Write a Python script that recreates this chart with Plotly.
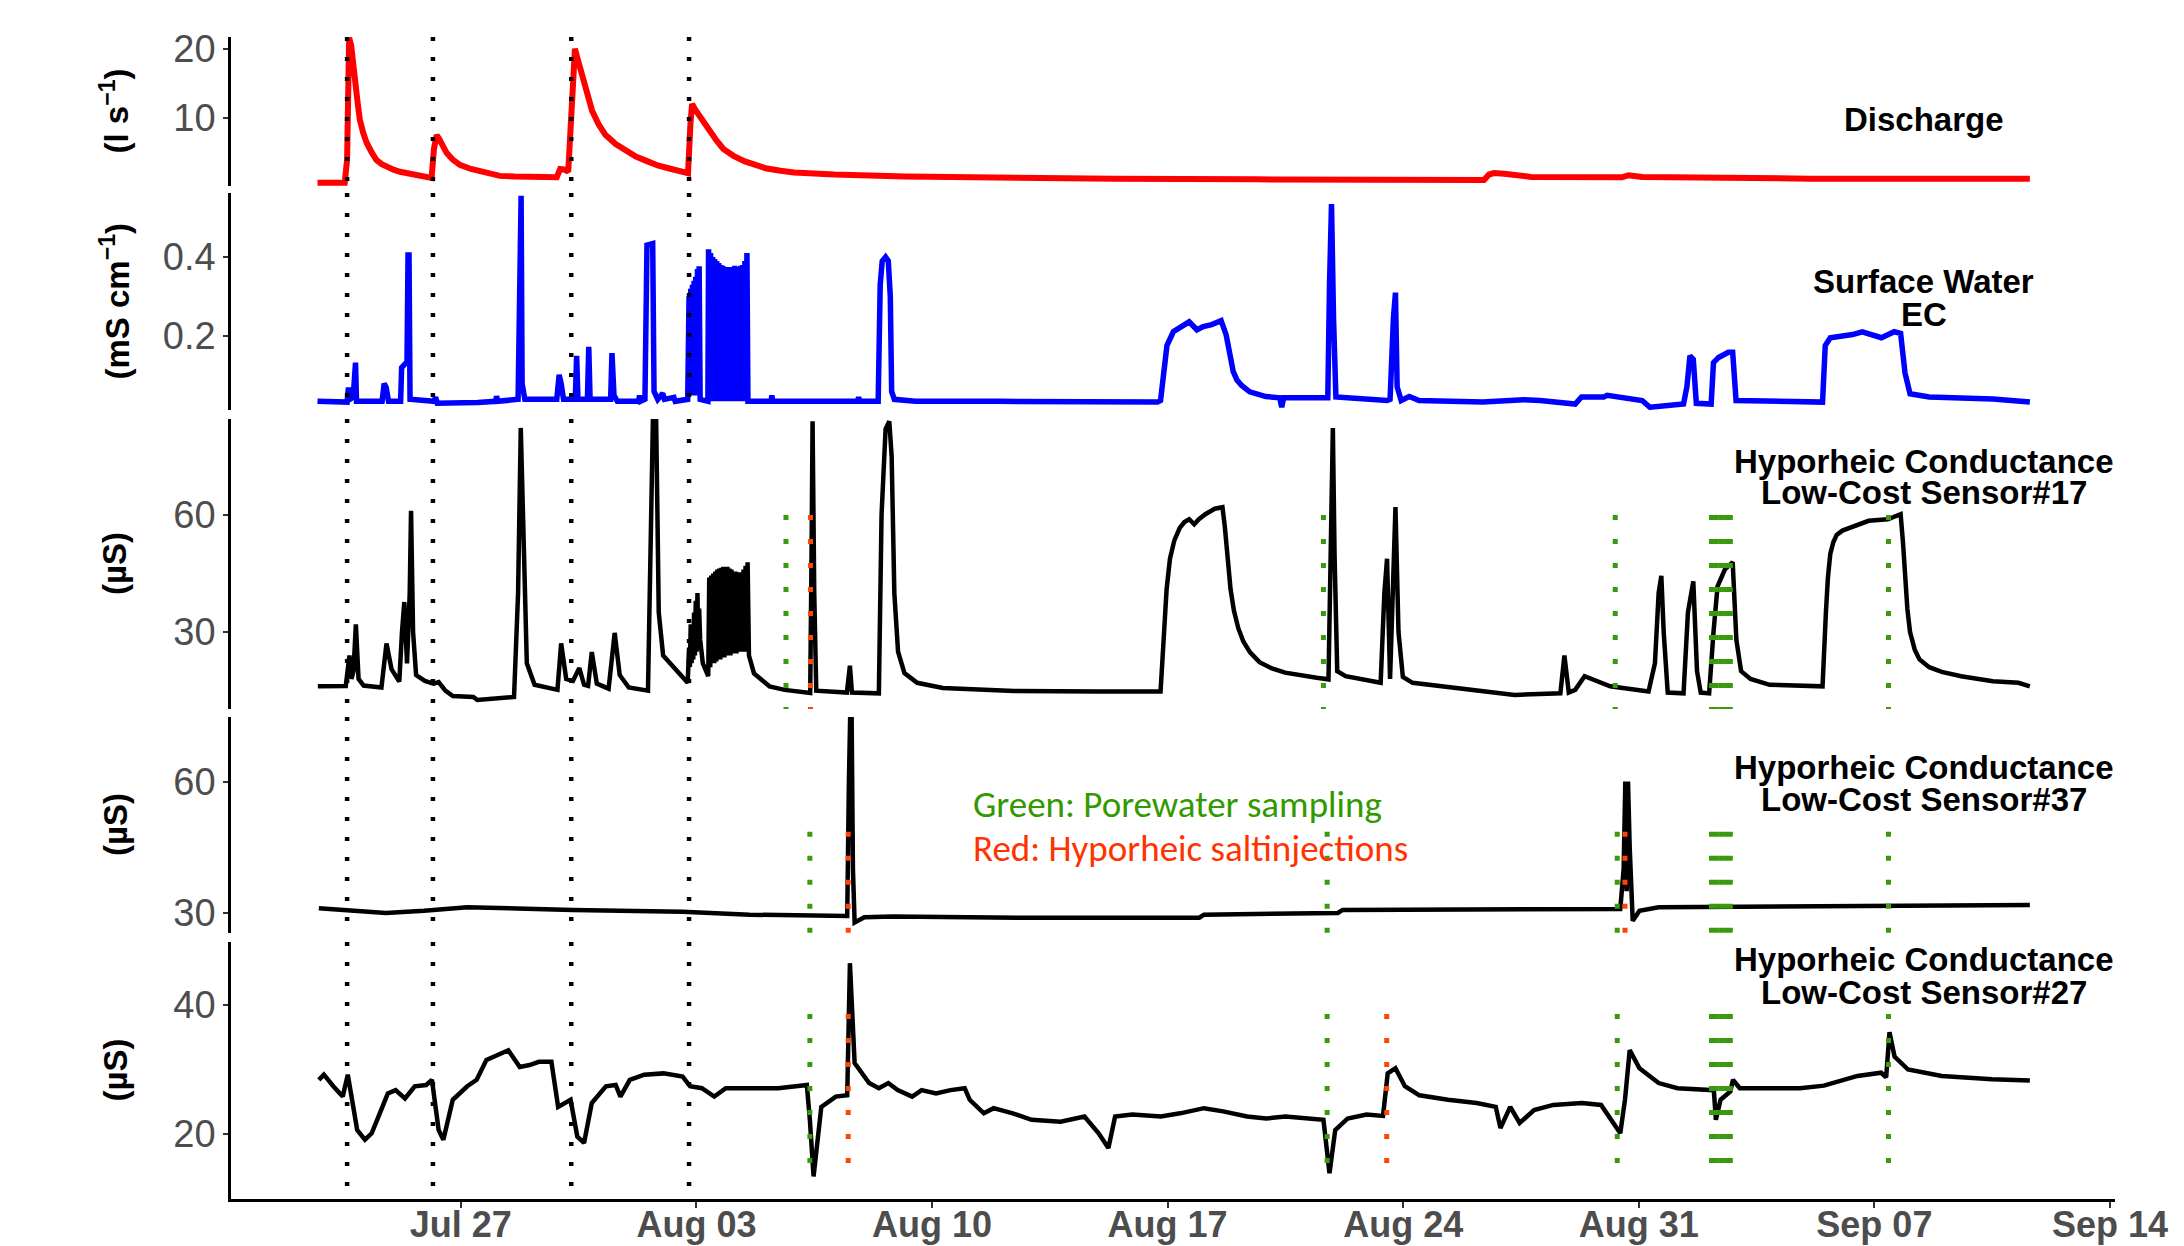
import pandas as pd
import plotly.graph_objects as go

BASE = pd.Timestamp("2021-07-20")

# ---------------- data (x = days since 20 Jul) ----------------
q_day = [2.74, 3.55, 3.62, 3.68, 3.74, 3.80, 3.85, 3.90, 3.95, 4.00, 4.10, 4.20, 4.35, 4.49, 4.65, 4.79,
         5.00, 5.19, 5.45, 5.68, 5.90, 6.08, 6.13, 6.20, 6.28, 6.35, 6.45, 6.58, 6.75, 6.97, 7.30, 7.65,
         8.16, 8.60, 9.00, 9.70, 9.85, 9.95, 10.10, 10.19, 10.30, 10.39, 10.47, 10.60, 10.75, 10.90, 11.10,
         11.30, 11.60, 11.90, 12.20, 12.55, 12.85, 13.17, 13.45, 13.70, 13.75, 13.82, 13.87, 13.95, 14.12,
         14.25, 14.40, 14.60, 14.80, 15.10, 15.44, 15.75, 16.06, 16.50, 16.90, 17.50, 18.10, 20.20, 22.30,
         26.40, 30.60, 34.70, 37.40, 37.55, 37.70, 38.00, 38.80, 41.50, 41.70, 42.10, 47.10, 53.62]
q_val = [0.6, 0.6, 4.0, 21.6, 20.5, 18.4, 16.0, 13.6, 11.5, 9.7, 7.8, 6.4, 5.0, 3.9, 3.3, 2.9,
         2.5, 2.2, 2.0, 1.8, 1.55, 1.3, 1.3, 5.5, 7.5, 7.0, 6.0, 4.9, 4.0, 3.2, 2.6, 2.2,
         1.6, 1.5, 1.45, 1.3, 1.4, 2.6, 2.5, 2.2, 12.0, 20.0, 18.5, 16.0, 13.3, 11.0, 9.0,
         7.5, 6.2, 5.3, 4.4, 3.7, 3.1, 2.7, 2.35, 2.1, 2.0, 9.0, 12.0, 11.3, 10.0,
         9.0, 8.0, 6.7, 5.5, 4.5, 3.7, 3.1, 2.7, 2.35, 2.1, 1.95, 1.8, 1.5, 1.35,
         1.2, 1.1, 1.0, 1.0, 1.8, 2.0, 1.9, 1.45, 1.4, 1.7, 1.45, 1.2, 1.2]

ec_day = [2.74, 3.62, 3.66, 3.70, 3.80, 3.84, 3.87, 3.90, 4.66, 4.72, 4.78, 4.85, 5.21, 5.24, 5.40, 5.43,
          5.46, 5.49, 6.20, 6.25, 6.30, 7.50, 8.03, 8.06, 8.10, 8.70, 8.74, 8.76, 8.79, 8.82, 8.90, 9.85,
          9.92, 9.98, 10.05, 10.40, 10.44, 10.48, 10.76, 10.80, 10.84, 11.45, 11.49, 11.55, 11.65, 12.28,
          12.31, 12.34, 12.47, 12.53, 12.70, 12.74, 12.85, 13.00, 13.05, 13.33, 13.37, 13.74,
          13.78, 13.805, 13.83, 13.855, 13.88, 13.905, 13.93, 13.955, 13.98, 14.005, 14.03, 14.055, 14.08, 14.11,
          14.34,
          14.36, 14.39, 14.42, 14.45, 14.48, 14.51, 14.54, 14.57, 14.60, 14.63, 14.66, 14.69, 14.72, 14.75,
          14.78, 14.81, 14.84, 14.87, 14.90, 14.93, 14.96, 14.99, 15.02, 15.05, 15.08, 15.11, 15.14, 15.17,
          15.20, 15.23, 15.26, 15.29, 15.32, 15.35, 15.38, 15.41, 15.44, 15.47, 15.50, 15.53,
          15.60, 16.22, 16.24, 16.27, 18.78, 18.82, 18.86, 19.40, 19.46, 19.52, 19.62, 19.70, 19.76, 19.80,
          19.88, 20.50, 23.00, 25.99, 27.70, 27.79, 27.88, 27.98, 28.17, 28.36, 28.64, 28.87, 29.06, 29.31,
          29.59, 29.74, 29.80, 29.88, 29.95, 30.06, 30.20, 30.44, 30.92, 31.33, 31.39, 31.45, 32.76, 32.81,
          32.87, 32.93, 33.00, 34.52, 34.61, 34.71, 34.77, 34.82, 34.94, 35.18, 35.47, 37.36, 38.59, 39.07,
          40.11, 40.30, 40.96, 41.06, 42.10, 42.33, 43.33, 43.43, 43.52, 43.62, 43.71, 44.15, 44.22, 44.37,
          44.66, 44.79, 44.89, 47.46, 47.54, 47.69, 47.98, 48.35, 48.64, 48.92, 49.21, 49.59, 49.78, 49.91,
          50.06, 50.63, 52.52, 53.62]
ec_val = [0.035, 0.033, 0.07, 0.04, 0.045, 0.133, 0.133, 0.035, 0.035, 0.08, 0.07, 0.035, 0.035, 0.12, 0.135, 0.405,
          0.405, 0.04, 0.035, 0.045, 0.03, 0.032, 0.035, 0.048, 0.035, 0.04, 0.30, 0.555, 0.555, 0.08, 0.04, 0.04,
          0.102, 0.08, 0.04, 0.04, 0.15, 0.04, 0.04, 0.173, 0.04, 0.04, 0.157, 0.05, 0.035, 0.035,
          0.05, 0.035, 0.04, 0.43, 0.434, 0.06, 0.04, 0.055, 0.04, 0.045, 0.035, 0.04,
          0.30, 0.05, 0.32, 0.05, 0.33, 0.05, 0.34, 0.05, 0.35, 0.05, 0.37, 0.05, 0.377, 0.04,
          0.035,
          0.42, 0.035, 0.41, 0.035, 0.40, 0.035, 0.395, 0.035, 0.39, 0.035, 0.385, 0.035, 0.38, 0.035,
          0.378, 0.035, 0.375, 0.035, 0.375, 0.035, 0.375, 0.035, 0.375, 0.035, 0.375, 0.035, 0.378, 0.035,
          0.375, 0.035, 0.375, 0.035, 0.378, 0.035, 0.38, 0.035, 0.39, 0.035, 0.41, 0.035,
          0.035, 0.035, 0.05, 0.035, 0.035, 0.045, 0.035, 0.035, 0.33, 0.39, 0.40, 0.39, 0.30, 0.06,
          0.04, 0.035, 0.035, 0.033, 0.033, 0.037, 0.12, 0.176, 0.211, 0.222, 0.236, 0.216, 0.224, 0.229,
          0.239, 0.203, 0.17, 0.133, 0.11, 0.089, 0.075, 0.059, 0.047, 0.044, 0.02, 0.044, 0.044, 0.33,
          0.534, 0.246, 0.046, 0.037, 0.04, 0.246, 0.31, 0.072, 0.037, 0.047, 0.037, 0.033, 0.039, 0.037,
          0.028, 0.046, 0.046, 0.05, 0.037, 0.02, 0.028, 0.072, 0.15, 0.141, 0.03, 0.028, 0.133, 0.146,
          0.159, 0.159, 0.037, 0.033, 0.176, 0.196, 0.198, 0.204, 0.211, 0.203, 0.196, 0.211, 0.207, 0.107,
          0.054, 0.046, 0.041, 0.033]

s17_day = [2.75, 3.58, 3.69, 3.75, 3.81, 3.88, 3.96, 4.11, 4.64, 4.79, 4.94, 5.17, 5.25, 5.32, 5.40, 5.48,
           5.52, 5.58, 5.67, 5.93, 6.19, 6.34, 6.54, 6.76, 7.37, 7.49, 8.58, 8.70, 8.78, 8.86, 8.96, 9.19,
           9.87, 9.98, 10.13, 10.33, 10.52, 10.66, 10.78, 10.89, 11.04, 11.39, 11.57, 11.72, 11.99, 12.56,
           12.65, 12.71, 12.80, 12.88, 13.01, 13.44, 13.74,
           13.78, 13.805, 13.83, 13.855, 13.88, 13.905, 13.93, 13.955, 13.98, 14.005, 14.03, 14.055, 14.08,
           14.11, 14.19, 14.35,
           14.38, 14.41, 14.44, 14.47, 14.50, 14.53, 14.56, 14.59, 14.62, 14.65, 14.68, 14.71, 14.74, 14.77,
           14.80, 14.83, 14.86, 14.89, 14.92, 14.95, 14.98, 15.01, 15.04, 15.07, 15.10, 15.13, 15.16, 15.19,
           15.22, 15.25, 15.28, 15.31, 15.34, 15.37, 15.40, 15.43, 15.46, 15.49, 15.52, 15.56,
           15.71, 16.17, 16.62, 17.38, 17.42, 17.45, 17.50, 17.56, 18.47, 18.56, 18.62, 19.42, 19.50, 19.62,
           19.73, 19.80, 19.88, 19.93, 19.99, 20.18, 20.56, 21.32, 23.44, 25.99, 27.79, 27.84, 27.89, 27.97,
           28.07, 28.20, 28.36, 28.50, 28.64, 28.79, 28.93, 29.12, 29.40, 29.63, 29.70, 29.78, 29.87, 29.97,
           30.10, 30.25, 30.45, 30.73, 31.10, 31.49, 32.00, 32.43, 32.78, 32.85, 32.91,
           32.96, 33.04, 33.29, 34.33, 34.44, 34.52, 34.61, 34.71, 34.77, 34.86, 34.99, 35.28, 36.60, 38.31,
           39.67, 39.79, 39.92, 40.11, 40.39, 40.77, 41.15, 42.29, 42.48, 42.59, 42.67, 42.74, 42.86, 43.33,
           43.46, 43.62, 43.73, 43.84, 44.09, 44.22, 44.34, 44.56, 44.79, 44.90, 45.04, 45.32, 45.89, 47.46,
           47.50, 47.56, 47.62, 47.69, 47.78, 47.88, 48.05, 48.26, 48.54, 48.83, 49.40, 49.59, 49.78, 49.85,
           49.91, 49.98, 50.06, 50.20, 50.34, 50.63, 51.00, 51.58, 52.52, 53.28, 53.62]
s17_val = [16.1, 16.2, 24, 18, 20, 32, 18, 16.3, 15.8, 27.1, 20.5, 17.3, 30, 37.7, 22, 40,
           61.1, 30, 19, 17.5, 16.8, 17.2, 15, 13.6, 13.4, 12.6, 13.4, 40, 82.3, 50, 22, 16.5,
           15.2, 27.1, 18, 17.5, 20.8, 16.5, 16.2, 24.9, 16.8, 15.5, 29.8, 19, 15.8, 15.0,
           50, 86, 86, 35, 24, 20, 17,
           26, 21, 32, 22, 30, 23, 35, 24, 38, 25, 40, 26, 36,
           28, 22, 18.7,
           44, 21, 44.5, 22, 45, 22, 45.5, 22.5, 46, 23, 46.3, 23, 46.5, 23.5,
           46.7, 23.5, 46.5, 24, 46.7, 24, 46.3, 24, 46, 24.5, 45.5, 24.5, 45.5, 24.5,
           45, 25, 45.3, 25, 45, 25, 46, 25, 47, 25, 47.9, 24,
           19.4, 16.1, 15.2, 14.4, 50, 84, 40, 15.0, 14.5, 21.4, 14.5, 14.3, 60, 82,
           84, 75, 40, 31, 25, 19.5, 17, 15.7, 14.9, 14.8, 14.8, 22, 31, 41,
           48.8, 53.5, 56.7, 58.2, 58.9, 57.6, 58.9, 60.2, 61.6, 62, 57, 48.8, 41, 35.5,
           31, 27.6, 24.8, 22.3, 20.7, 19.6, 18.8, 18.3, 17.9, 60, 82.3,
           50, 20, 18.7, 17, 40, 48.8, 18, 45, 62, 30, 18.5, 17, 15.7, 13.9,
           14.3, 24, 14.5, 15.2, 18.7, 17.4, 16.1, 14.8, 22, 40, 44.4, 30, 14.5, 14.3,
           35, 43, 20, 14.5, 14.3, 30, 41.7, 46.1, 47.9, 28, 20, 18, 16.5, 16.1,
           25, 35, 44, 50, 53, 54.9, 56, 56.7, 57.6, 58.5, 58.9, 59.5, 60.2, 53,
           45, 36, 30, 25.5, 23, 21, 19.8, 18.7, 17.4, 17, 16.1]

s37_day = [2.78, 3.64, 4.77, 5.91, 7.19, 10.32, 13.59, 15.58, 17.42, 18.48, 18.53, 18.57, 18.61, 18.65,
           18.70, 18.99, 19.84, 23.82, 28.94, 29.08, 33.06, 33.20, 41.45, 41.55, 41.60, 41.64, 41.68, 41.73,
           41.82, 42.02, 42.59, 44.86, 46.00, 50.00, 53.62]
s37_val = [31.1, 30.7, 30.0, 30.5, 31.3, 30.7, 30.3, 29.6, 29.3, 29.3, 60, 76, 76, 40,
           27.8, 29.0, 29.2, 28.9, 28.9, 29.6, 30.0, 30.7, 30.9, 40, 60.1, 35, 60.1, 45,
           28.2, 30.5, 31.3, 31.4, 31.5, 31.6, 31.8]

s27_day = [2.78, 2.93, 3.21, 3.49, 3.64, 3.78, 3.92, 4.15, 4.35, 4.63, 4.83, 5.06, 5.34, 5.63, 5.97, 6.14,
           6.34, 6.48, 6.76, 7.19, 7.47, 7.76, 8.19, 8.41, 8.75, 9.04, 9.32, 9.69, 9.89, 10.26, 10.46, 10.66,
           10.89, 11.31, 11.60, 11.74, 12.02, 12.45, 13.02, 13.59, 13.81, 14.16, 14.53, 14.87, 15.58, 16.43,
           17.28, 17.37, 17.48, 17.71, 18.14, 18.48, 18.56, 18.70, 19.13, 19.42, 19.70, 19.98, 20.41, 20.69,
           21.12, 21.55, 21.97, 22.12, 22.54, 22.83, 23.40, 23.96, 24.82, 25.53, 25.95, 26.24, 26.44, 26.95,
           27.80, 28.37, 29.08, 29.65, 30.36, 30.93, 31.50, 32.21, 32.63, 32.81, 32.98, 33.35, 33.91, 34.40,
           34.54, 34.77, 35.05, 35.48, 36.33, 37.18, 37.75, 37.89, 38.18, 38.46, 38.89, 39.46, 40.31, 40.88,
           41.11, 41.45, 41.59, 41.73, 42.02, 42.59, 43.15, 44.01, 44.23, 44.29, 44.43, 44.72, 44.80, 45.00,
           46.79, 47.50, 48.50, 49.20, 49.35, 49.45, 49.60, 50.00, 51.00, 52.50, 53.62]
s27_val = [28.4, 29.2, 27.4, 25.8, 29.2, 24.8, 20.6, 19.1, 20.1, 23.7, 26.3, 26.8, 25.5, 27.4, 27.6, 28.4,
           20.6, 19.1, 25.3, 27.4, 28.4, 31.5, 32.5, 33.0, 30.4, 30.7, 31.2, 31.2, 24.2, 25.3, 19.6, 18.6,
           24.8, 27.4, 27.6, 25.8, 28.4, 29.2, 29.4, 28.9, 27.4, 27.1, 25.8, 27.1, 27.1, 27.1,
           27.6, 22.2, 13.4, 24.2, 25.8, 26.0, 46.5, 31.0, 27.9, 27.1, 27.9, 26.8, 25.8, 26.8,
           26.3, 26.8, 27.1, 25.3, 23.2, 24.0, 23.2, 22.2, 21.9, 22.7, 20.1, 17.8, 22.7, 23.0,
           22.7, 23.2, 24.0, 23.5, 22.7, 22.4, 22.7, 22.4, 22.2, 13.9, 20.6, 22.4, 23.0, 22.8,
           29.4, 30.2, 27.4, 26.0, 25.3, 24.8, 24.2, 20.9, 24.2, 21.7, 23.7, 24.5, 24.8, 24.5,
           22.7, 20.1, 25.3, 33.0, 30.2, 27.9, 27.1, 26.8, 26.8, 22.2, 25.3, 26.6, 28.4, 27.1,
           27.1, 27.5, 29.0, 29.5, 28.8, 35.8, 32.0, 30.0, 29.0, 28.5, 28.3]

# event lines (days since 20 Jul)
rain_days = [3.62, 6.17, 10.28, 13.78]
green_p3 = [16.66, 32.63, 41.30, 44.16, 44.30, 44.44, 44.58, 44.72, 49.42]
red_p3 = [17.39]
green_p45 = [17.37, 32.74, 41.36, 44.16, 44.30, 44.44, 44.58, 44.72, 49.42]
red_p4 = [18.51, 41.59]
red_p5 = [18.51, 34.51]
seg_p3 = [60, 10.3]
seg_p4 = [48.6, 25.4]
seg_p5 = [38.6, 14.3]

y_ranges = [[0.14, 21.7], [0.013, 0.562], [10.3, 84.6], [25.4, 74.9], [9.9, 49.8]]
y_ticks = [[10, 20], [0.2, 0.4], [30, 60], [30, 60], [20, 40]]
y_ticktext = [["10", "20"], ["0.2", "0.4"], ["30", "60"], ["30", "60"], ["20", "40"]]
y_titles = ["(l s<sup>−1</sup>)", "(mS cm<sup>−1</sup>)", "(µS)", "(µS)", "(µS)"]
panel_labels = [["Discharge"], ["Surface Water", "EC"],
                ["Hyporheic Conductance", "Low-Cost Sensor#17"],
                ["Hyporheic Conductance", "Low-Cost Sensor#37"],
                ["Hyporheic Conductance", "Low-Cost Sensor#27"]]
x_tick_days = [7, 14, 21, 28, 35, 42, 49, 56]
x_tick_text = ["Jul 27", "Aug 03", "Aug 10", "Aug 17", "Aug 24", "Aug 31", "Sep 07", "Sep 14"]

# ---------------- layout geometry ----------------
W, H = 2184, 1246
ML, MR, MT, MB = 231, 69, 37, 47
domains = [[0.8718, 1.0], [0.6790, 0.8657], [0.4217, 0.6713], [0.2289, 0.4148], [0.0, 0.2212]]
label_y = [[0.9286], [0.7900, 0.7608], [0.6351, 0.6076], [0.3713, 0.3437], [0.2057, 0.1781]]


def dt(days):
    return [BASE + pd.Timedelta(days=d) for d in days]


FONT = "Liberation Sans, Arial, sans-serif"
GREEN = "#3a9a0c"
RED = "#ff4500"

fig = go.Figure()
series = [(q_day, q_val, "#ff0000", 6), (ec_day, ec_val, "#0000ff", 5.5),
          (s17_day, s17_val, "#000000", 4.5), (s37_day, s37_val, "#000000", 4.5),
          (s27_day, s27_val, "#000000", 4.5)]
for i, (d, v, c, w) in enumerate(series):
    fig.add_trace(go.Scatter(x=dt(d), y=v, mode="lines", line=dict(color=c, width=w),
                             xaxis="x", yaxis="y" if i == 0 else f"y{i+1}",
                             showlegend=False, hoverinfo="skip"))

shapes = []
for i in range(5):
    yref = "y domain" if i == 0 else f"y{i+1} domain"
    for d in rain_days:
        t = BASE + pd.Timedelta(days=d)
        shapes.append(dict(type="line", xref="x", yref=yref, x0=t, x1=t, y0=1, y1=0,
                           line=dict(color="black", width=4.5, dash="4px,16px")))


def segs(days, panel, yy, color):
    for d in days:
        t = BASE + pd.Timedelta(days=d)
        shapes.append(dict(type="line", xref="x", yref=f"y{panel}", x0=t, x1=t, y0=yy[0], y1=yy[1],
                           line=dict(color=color, width=5, dash="5px,19px")))


segs(green_p3, 3, seg_p3, GREEN)
segs(red_p3, 3, seg_p3, RED)
segs(green_p45, 4, seg_p4, GREEN)
segs(red_p4, 4, seg_p4, RED)
segs(green_p45, 5, seg_p5, GREEN)
segs(red_p5, 5, seg_p5, RED)

annotations = []
for i in range(5):
    for txt, yy in zip(panel_labels[i], label_y[i]):
        annotations.append(dict(text=f"<b>{txt}</b>", xref="paper", yref="paper", x=0.8986, y=yy,
                                xanchor="center", yanchor="middle", showarrow=False,
                                font=dict(family=FONT, size=33, color="black")))
    annotations.append(dict(text=f"<b>{y_titles[i]}</b>", xref="paper", yref="paper", x=0,
                            y=(domains[i][0] + domains[i][1]) / 2, xshift=-116, textangle=-90,
                            xanchor="center", yanchor="middle", showarrow=False,
                            font=dict(family=FONT, size=33, color="black")))

annotations.append(dict(text="Green: Porewater sampling", xref="paper", yref="paper",
                        x=(971 - ML) / (W - ML - MR), y=(H - MB - 805) / (H - MT - MB),
                        xanchor="left", yanchor="middle", showarrow=False,
                        font=dict(family="Carlito, Calibri, Lato, sans-serif", size=37, color="#339900")))
annotations.append(dict(text="Red: Hyporheic saltinjections", xref="paper", yref="paper",
                        x=(971 - ML) / (W - ML - MR), y=(H - MB - 848) / (H - MT - MB),
                        xanchor="left", yanchor="middle", showarrow=False,
                        font=dict(family="Carlito, Calibri, Lato, sans-serif", size=37, color="#ff3300")))

layout = dict(
    width=W, height=H, autosize=False,
    margin=dict(l=ML, r=MR, t=MT, b=MB, pad=0),
    paper_bgcolor="white", plot_bgcolor="white",
    shapes=shapes, annotations=annotations, showlegend=False,
    xaxis=dict(anchor="y5", domain=[0, 1], automargin=False,
               range=[BASE + pd.Timedelta(days=0.17), BASE + pd.Timedelta(days=56.15)],
               tickvals=dt(x_tick_days), ticktext=x_tick_text,
               showline=True, linecolor="black", linewidth=2.5, mirror=False,
               ticks="outside", ticklen=6, tickwidth=2, tickcolor="#333333", ticklabelstandoff=-14,
               tickfont=dict(family=FONT, size=36, color="#4d4d4d", weight="bold"),
               showgrid=False, zeroline=False),
)
for i in range(5):
    key = "yaxis" if i == 0 else f"yaxis{i+1}"
    layout[key] = dict(anchor="x", domain=domains[i], range=y_ranges[i], automargin=False,
                       tickvals=y_ticks[i], ticktext=y_ticktext[i],
                       showline=True, linecolor="black", linewidth=2.5,
                       ticks="outside", ticklen=5, tickwidth=2, tickcolor="#333333",
                       tickfont=dict(family=FONT, size=38, color="#4d4d4d"),
                       showgrid=False, zeroline=False)

fig.update_layout(**layout)
fig.write_html("out.html", config={"displayModeBar": False},
               post_script="document.body.style.margin='0';document.body.style.overflow='hidden';")
